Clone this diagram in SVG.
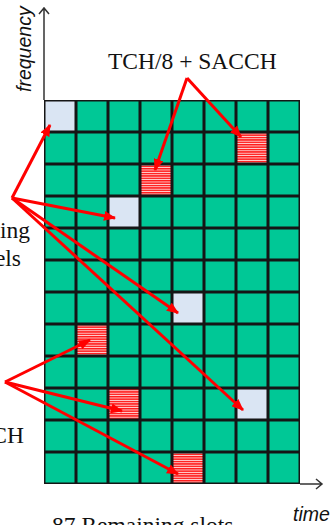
<svg xmlns="http://www.w3.org/2000/svg" width="330" height="525" viewBox="0 0 330 525">
<style>
.lbl{font-family:"Liberation Serif","Times New Roman",serif;font-size:23.5px;fill:#111}
.ax{font-family:"Liberation Sans",Arial,sans-serif;font-style:italic;font-size:19.5px;fill:#111}
.axis{stroke:#333;stroke-width:1.5;fill:none}
.grid{stroke:#151515;stroke-width:3;fill:none}
.con{stroke:#ff0000;stroke-width:3;fill:none;marker-end:url(#ah)}
.sig{fill:#dae5f3}
.tch{fill:url(#stripes)}
</style>
<defs>
<pattern id="stripes" patternUnits="userSpaceOnUse" x="0" y="0" width="8" height="2.4">
<rect width="8" height="2.4" fill="#ffe0e0"/>
<rect width="8" height="1.5" fill="#ff1a1a"/>
</pattern>
<marker id="ah" markerUnits="userSpaceOnUse" markerWidth="12" markerHeight="10" refX="11" refY="5" orient="auto">
<path d="M0,0 L12,5 L0,10 z" fill="#ff0000"/>
</marker>
</defs>

<g id="axes">
<path class="axis" d="M44,100 V8 M39,14 L44,8 L49,14"/>
<path class="axis" d="M300,484 H322 M316,479 L322,484 L316,489"/>
</g>

<g id="grid">
<rect x="44" y="100" width="256" height="384" fill="#00c896"/>
<g id="cell-sig-1"><rect class="sig" x="45" y="101" width="30" height="30" fill="#c8dbf5"/></g>
<g id="cell-sig-2"><rect class="sig" x="109" y="197" width="30" height="30"/></g>
<g id="cell-sig-3"><rect class="sig" x="173" y="293" width="30" height="30"/></g>
<g id="cell-sig-4"><rect class="sig" x="237" y="389" width="30" height="30"/></g>
<g id="cell-tch-1"><rect class="tch" x="237" y="133" width="30" height="30"/></g>
<g id="cell-tch-2"><rect class="tch" x="141" y="165" width="30" height="30"/></g>
<g id="cell-sd-1"><rect class="tch" x="77" y="325" width="30" height="30"/></g>
<g id="cell-sd-2"><rect class="tch" x="109" y="389" width="30" height="30"/></g>
<g id="cell-sd-3"><rect class="tch" x="173" y="453" width="30" height="30"/></g>
<path class="grid" d="M76,100V484 M108,100V484 M140,100V484 M172,100V484 M204,100V484 M236,100V484 M268,100V484
M44,132H300 M44,164H300 M44,196H300 M44,228H300 M44,260H300 M44,292H300 M44,324H300 M44,356H300 M44,388H300 M44,420H300 M44,452H300"/>
<rect x="44.75" y="100.75" width="254.5" height="382.5" fill="none" stroke="#151515" stroke-width="1.5"/>
</g>

<g id="label-tch"><text class="lbl" x="108" y="69">TCH/8 + SACCH</text></g>
<g id="label-sig"><text class="lbl" x="30" y="238" text-anchor="end">ing</text><text class="lbl" x="21" y="266" text-anchor="end">els</text></g>
<g id="label-sd"><text class="lbl" x="24" y="443" text-anchor="end">CH</text></g>
<g id="label-remaining"><text class="lbl" x="52" y="533">87 Remaining slots</text></g>
<g id="label-freq"><text class="ax" transform="translate(31,92) rotate(-90)">frequency</text></g>
<g id="label-time"><text class="ax" x="293" y="521">time</text></g>

<g id="connectors">
<line class="con" x1="187" y1="78" x2="241" y2="137"/>
<line class="con" x1="187" y1="78" x2="155" y2="170"/>
<line class="con" x1="12" y1="198" x2="50" y2="125"/>
<line class="con" x1="12" y1="198" x2="115" y2="218"/>
<line class="con" x1="12" y1="198" x2="178" y2="313"/>
<line class="con" x1="12" y1="198" x2="243" y2="410"/>
<line class="con" x1="5" y1="382" x2="90" y2="340"/>
<line class="con" x1="5" y1="382" x2="122" y2="411"/>
<line class="con" x1="5" y1="382" x2="178" y2="474"/>
</g>
</svg>
